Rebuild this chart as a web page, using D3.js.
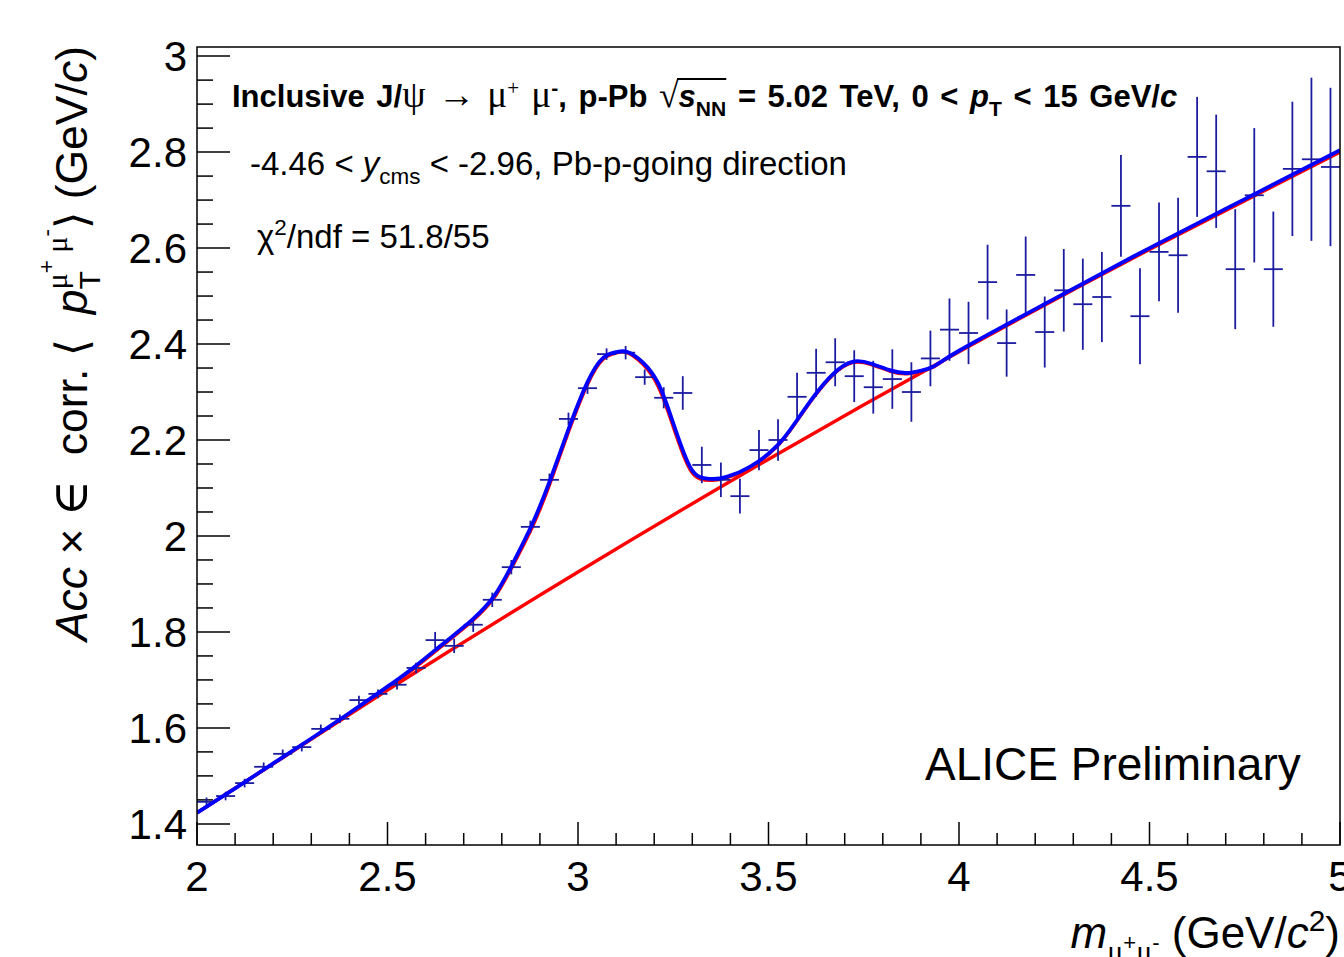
<!DOCTYPE html>
<html>
<head>
<meta charset="utf-8">
<script src="https://cdn.jsdelivr.net/npm/d3@7"></script>
<style>
  body { margin: 0; background: #fff; }
  svg { display: block; }
  text { white-space: pre; }
</style>
</head>
<body>
<svg id="chart" width="1344" height="957"></svg>
<script>
// bin centres (GeV/c^2), bin width 0.05
const massBins = [
  2.025, 2.075, 2.125, 2.175, 2.225, 2.275, 2.325, 2.375, 2.425, 2.475,
  2.525, 2.575, 2.625, 2.675, 2.725, 2.775, 2.825, 2.875, 2.925, 2.975,
  3.025, 3.075, 3.125, 3.175, 3.225, 3.275, 3.325, 3.375, 3.425, 3.475,
  3.525, 3.575, 3.625, 3.675, 3.725, 3.775, 3.825, 3.875, 3.925, 3.975,
  4.025, 4.075, 4.125, 4.175, 4.225, 4.275, 4.325, 4.375, 4.425, 4.475,
  4.525, 4.575, 4.625, 4.675, 4.725, 4.775, 4.825, 4.875, 4.925, 4.975
];
const meanPt = [
  1.446, 1.458, 1.485, 1.519, 1.546, 1.560, 1.598, 1.619, 1.658, 1.671,
  1.690, 1.725, 1.783, 1.771, 1.815, 1.867, 1.935, 2.019, 2.117, 2.244,
  2.308, 2.379, 2.382, 2.331, 2.288, 2.298, 2.148, 2.117, 2.083, 2.179,
  2.200, 2.290, 2.340, 2.362, 2.333, 2.310, 2.327, 2.300, 2.370, 2.430,
  2.423, 2.529, 2.402, 2.544, 2.425, 2.512, 2.483, 2.498, 2.688, 2.458,
  2.592, 2.585, 2.790, 2.760, 2.556, 2.710, 2.556, 2.765, 2.785, 2.769
];
const meanPtErr = [
  0.009, 0.009, 0.009, 0.009, 0.009, 0.009, 0.009, 0.009, 0.009, 0.009,
  0.010, 0.011, 0.017, 0.015, 0.015, 0.015, 0.015, 0.013, 0.013, 0.013,
  0.012, 0.012, 0.014, 0.016, 0.022, 0.035, 0.038, 0.036, 0.036, 0.042,
  0.043, 0.050, 0.050, 0.050, 0.054, 0.055, 0.062, 0.062, 0.058, 0.065,
  0.065, 0.078, 0.070, 0.080, 0.074, 0.086, 0.095, 0.094, 0.106, 0.100,
  0.103, 0.120, 0.125, 0.118, 0.125, 0.140, 0.120, 0.140, 0.170, 0.165
];

// fit curves
const fitMass = [
  2.0, 2.1, 2.2, 2.3, 2.4, 2.5, 2.567, 2.65, 2.722, 2.78,
  2.827, 2.88, 2.927, 2.974, 3.024, 3.066, 3.1, 3.128, 3.17, 3.21,
  3.241, 3.268, 3.294, 3.32, 3.354, 3.39, 3.451, 3.52, 3.57, 3.62,
  3.67, 3.72, 3.77, 3.82, 3.87, 3.93, 4.0, 4.25, 4.5, 4.75, 5.0
];
const fitBlue = [
  1.423, 1.474, 1.526, 1.578, 1.631, 1.686, 1.725, 1.778, 1.825, 1.875,
  1.940, 2.025, 2.117, 2.220, 2.319, 2.371, 2.383, 2.384, 2.362, 2.319,
  2.256, 2.194, 2.144, 2.123, 2.119, 2.123, 2.144, 2.186, 2.236, 2.292,
  2.338, 2.363, 2.359, 2.345, 2.340, 2.352, 2.386, 2.494, 2.600, 2.702, 2.804
];
const fitRed = [
  1.423, 1.474, 1.525, 1.577, 1.630, 1.684, 1.722, 1.775, 1.822, 1.871,
  1.935, 2.018, 2.110, 2.214, 2.314, 2.368, 2.381, 2.382, 2.358, 2.312,
  2.248, 2.186, 2.138, 2.119, 2.116, 2.121, 2.142, 2.184, 2.234, 2.290,
  2.336, 2.361, 2.357, 2.343, 2.338, 2.351, 2.385, 2.493, 2.599, 2.701, 2.803
];
const bkgMass = [2.0, 2.5, 3.0, 3.5, 4.0, 4.5, 5.0];
const bkgValues = [1.423, 1.679, 1.925, 2.160, 2.384, 2.597, 2.800];

const xTicks = [2, 2.5, 3, 3.5, 4, 4.5, 5];
const xTickLabels = ['2', '2.5', '3', '3.5', '4', '4.5', '5'];
const yTicks = [1.4, 1.6, 1.8, 2.0, 2.2, 2.4, 2.6, 2.8, 3.0];
const yTickLabels = ['1.4', '1.6', '1.8', '2', '2.2', '2.4', '2.6', '2.8', '3'];

const sans = '"Liberation Sans", Arial, Helvetica, sans-serif';
const serif = '"Liberation Serif", "DejaVu Serif", serif';

const svg = d3.select('#chart');
const frame = { left: 197, right: 1340, top: 47, bottom: 845 };

const x = d3.scaleLinear().domain([2, 5]).range([frame.left, frame.right]);
const y = d3.scaleLinear().domain([1.356, 3.019]).range([frame.bottom, frame.top]);

svg.append('defs').append('clipPath').attr('id', 'plotClip')
  .append('rect')
  .attr('x', frame.left).attr('y', frame.top)
  .attr('width', frame.right - frame.left)
  .attr('height', frame.bottom - frame.top);

// ticks (pointing inward)
const axes = svg.append('g').attr('stroke', '#000').attr('stroke-width', 1.5);
d3.range(20, 50.5, 1).map(d => d / 10).forEach(v => {
  const major = xTicks.some(t => Math.abs(t - v) < 1e-6);
  axes.append('line')
    .attr('x1', x(v)).attr('x2', x(v))
    .attr('y1', frame.bottom).attr('y2', frame.bottom - (major ? 23 : 12));
});
d3.range(28, 60.5, 1).map(d => d / 20).forEach(v => {
  if (y(v) < frame.top) return;
  const major = yTicks.some(t => Math.abs(t - v) < 1e-6);
  axes.append('line')
    .attr('y1', y(v)).attr('y2', y(v))
    .attr('x1', frame.left).attr('x2', frame.left + (major ? 33 : 16));
});

// fit curves
const plot = svg.append('g').attr('clip-path', 'url(#plotClip)');
const curve = d3.line()
  .x(d => x(d[0]))
  .y(d => y(d[1]))
  .curve(d3.curveNatural);

plot.append('path')
  .attr('d', curve(bkgMass.map((m, i) => [m, bkgValues[i]])))
  .attr('fill', 'none').attr('stroke', '#ff0000').attr('stroke-width', 3.4);
plot.append('path')
  .attr('d', curve(fitMass.map((m, i) => [m, fitRed[i]])))
  .attr('fill', 'none').attr('stroke', '#ff0000').attr('stroke-width', 3.2);

// data points with error bars
const pts = plot.append('g').attr('stroke', '#1c1ca0').attr('stroke-width', 1.8);
massBins.forEach((m, i) => {
  pts.append('line')
    .attr('x1', x(m - 0.025)).attr('x2', x(m + 0.025))
    .attr('y1', y(meanPt[i])).attr('y2', y(meanPt[i]));
  pts.append('line')
    .attr('x1', x(m)).attr('x2', x(m))
    .attr('y1', y(meanPt[i] - meanPtErr[i])).attr('y2', y(meanPt[i] + meanPtErr[i]));
});

plot.append('path')
  .attr('d', curve(fitMass.map((m, i) => [m, fitBlue[i]])))
  .attr('fill', 'none').attr('stroke', '#0000ff').attr('stroke-width', 3.8);

// frame
svg.append('rect')
  .attr('x', frame.left).attr('y', frame.top)
  .attr('width', frame.right - frame.left)
  .attr('height', frame.bottom - frame.top)
  .attr('fill', 'none').attr('stroke', '#000').attr('stroke-width', 1.5);

// tick labels
svg.append('g').selectAll('text').data(xTicks).join('text')
  .attr('x', d => x(d)).attr('y', 891)
  .attr('text-anchor', 'middle')
  .attr('font-family', sans).attr('font-size', 42)
  .text((d, i) => xTickLabels[i]);
svg.append('g').selectAll('text').data(yTicks).join('text')
  .attr('x', 187).attr('y', d => y(d) + 15)
  .attr('text-anchor', 'end')
  .attr('font-family', sans).attr('font-size', 42)
  .text((d, i) => yTickLabels[i]);

// rich text helper: shift is in units of base size, positive = down
function richText(textSel, base, parts) {
  let shift = 0, prev = null;
  const marks = {};
  parts.forEach(p => {
    const target = (p.shift || 0) * base;
    const ts = textSel.append('tspan')
      .text(p.t)
      .attr('font-size', base * (p.scale || 1))
      .attr('dy', target - shift)
      .attr('font-style', p.it ? 'italic' : 'normal')
      .attr('font-weight', p.bold ? 'bold' : 'normal')
      .attr('font-family', p.serif ? serif : sans);
    if (p.stack && prev) ts.attr('dx', -prev.node().getComputedTextLength());
    shift = target;
    prev = ts;
    if (p.id) marks[p.id] = ts;
  });
  return marks;
}

const SUB = 0.28, SUP = -0.38, SM = 0.68;

// header line 1
const h1 = svg.append('text').attr('x', 232).attr('y', 107).attr('word-spacing', 3);
const h1m = richText(h1, 31, [
  { t: 'Inclusive J/', bold: true },
  { t: 'ψ', serif: true, scale: 1.2 },
  { t: ' → ', serif: true, scale: 1.2 },
  { t: 'μ', serif: true, scale: 1.2 },
  { t: '+', serif: true, scale: SM, shift: SUP },
  { t: ' μ', serif: true, scale: 1.2 },
  { t: '-', bold: true, scale: SM, shift: SUP },
  { t: ', p-Pb ', bold: true },
  { t: '√', serif: true, id: 'root', scale: 1.15 },
  { t: 's', bold: true, it: true },
  { t: 'NN', bold: true, scale: SM, shift: SUB, id: 'nn' },
  { t: ' = 5.02 TeV, 0 < ', bold: true },
  { t: 'p', bold: true, it: true },
  { t: 'T', bold: true, scale: SM, shift: SUB },
  { t: ' < 15 GeV/', bold: true },
  { t: 'c', bold: true, it: true }
]);
{
  const rb = h1m.root.node().getBBox();
  const nb = h1m.nn.node().getBBox();
  const top = rb.y + 4;
  svg.append('line')
    .attr('x1', rb.x + rb.width - 2).attr('x2', nb.x + nb.width)
    .attr('y1', top).attr('y2', top)
    .attr('stroke', '#000').attr('stroke-width', 2);
}

// header line 2
const h2 = svg.append('text').attr('x', 250).attr('y', 175);
richText(h2, 33, [
  { t: '-4.46 < ' },
  { t: 'y', it: true },
  { t: 'cms', scale: SM, shift: SUB },
  { t: ' < -2.96, Pb-p-going direction' }
]);

// chi2 line
const h3 = svg.append('text').attr('x', 257).attr('y', 248);
richText(h3, 33, [
  { t: 'χ' },
  { t: '2', scale: SM, shift: SUP },
  { t: '/ndf = 51.8/55' }
]);

svg.append('text')
  .attr('x', 925).attr('y', 780)
  .attr('font-family', sans).attr('font-size', 46)
  .text('ALICE Preliminary');

// x-axis title
const xt = svg.append('text').attr('x', 1340).attr('y', 948).attr('text-anchor', 'end');
richText(xt, 44, [
  { t: 'm', it: true },
  { t: 'μ', serif: true, scale: SM, shift: 0.3 },
  { t: '+', scale: 0.5, shift: 0.05 },
  { t: 'μ', serif: true, scale: SM, shift: 0.3 },
  { t: '-', scale: 0.5, shift: 0.05 },
  { t: ' (GeV/' },
  { t: 'c', it: true },
  { t: '2', scale: SM, shift: SUP },
  { t: ')' }
]);

// y-axis title
const yt = svg.append('text')
  .attr('transform', 'translate(87,46) rotate(-90)')
  .attr('text-anchor', 'end');
richText(yt, 44.5, [
  { t: 'Acc', it: true },
  { t: ' × ' },
  { t: '∈', serif: true, scale: 1.1 },
  { t: '  corr. ' },
  { t: '⟨', serif: true },
  { t: '  ' },
  { t: 'p', it: true },
  { t: 'T', scale: SM, shift: 0.3 },
  { t: 'μ', serif: true, scale: SM, shift: -0.45, stack: true },
  { t: '+', scale: 0.5, shift: -0.75 },
  { t: ' μ', serif: true, scale: SM, shift: -0.45 },
  { t: '-', scale: 0.5, shift: -0.75 },
  { t: '⟩', serif: true },
  { t: ' (GeV/' },
  { t: 'c', it: true },
  { t: ')' }
]);
</script>
</body>
</html>
